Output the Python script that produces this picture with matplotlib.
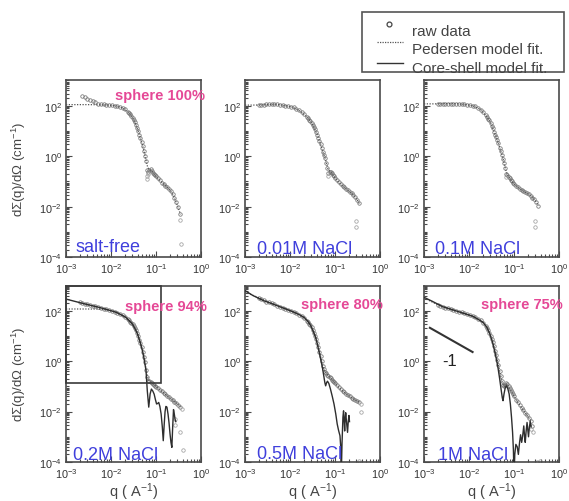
import numpy as np
import matplotlib
matplotlib.use("Agg")
import matplotlib.pyplot as plt
from matplotlib.ticker import LogLocator, NullFormatter
from matplotlib.patches import Rectangle
from matplotlib.lines import Line2D

plt.rcParams['font.family'] = ['Liberation Sans', 'DejaVu Sans']
plt.rcParams['mathtext.fontset'] = 'custom'
plt.rcParams['mathtext.rm'] = 'Liberation Sans'
plt.rcParams['mathtext.it'] = 'Liberation Sans:italic'
plt.rcParams['mathtext.bf'] = 'Liberation Sans:bold'

nan = float('nan')

# ---------------- scattering data ----------------
RAW_Q = [0.0020, 0.0023, 0.0026, 0.0030, 0.0034, 0.0039, 0.0045, 0.0052, 0.0060, 0.0069,
         0.0079, 0.0091, 0.0105, 0.0120, 0.0138, 0.0158, 0.0182, 0.0209, 0.0240,
         0.0254, 0.0269, 0.0285, 0.0302, 0.0320, 0.0339, 0.0359, 0.0380, 0.0403, 0.0427,
         0.0452, 0.0479, 0.0507, 0.0537, 0.0569, 0.0603, 0.0638, 0.0676, 0.0716, 0.0759,
         0.0804, 0.0851, 0.0902, 0.0955,
         0.101, 0.111, 0.122, 0.134, 0.147, 0.161, 0.177, 0.194, 0.213, 0.234, 0.257,
         0.282, 0.310, 0.340]

RAW_SALTFREE = [nan, 251, 219, 190, 170, 151, 135, 120, 115, 112, 110, 107, 102, 100, 95, 89, 81, 74, 58,
                51, 46, 40, 34, 27.5, 22, 17, 13.2, 10, 7.2, 5.2, 3.7, 2.5, 1.66, 1.05, 0.63, 0.28,
                0.24, 0.28, 0.30, 0.26, 0.22, 0.195, 0.174,
                0.158, 0.132, 0.110, 0.091, 0.079, 0.069, 0.060, 0.051, 0.043, 0.032, 0.022, 0.015,
                0.0095, 0.005]
RAW_001M = [105, 107, 110, 112, 115, 115, 115, 112, 110, 105, 100, 95, 91, 85, 76, 66, 55, 45, 35,
            32, 28, 24, 21, 17.4, 14, 11.5, 9.1, 7.1, 5.4, 4.0, 2.95, 2.1, 1.5, 1.12, 0.83, 0.56,
            0.34, 0.22, 0.24, 0.235, 0.21, 0.18, 0.158,
            0.138, 0.112, 0.093, 0.079, 0.068, 0.058, 0.050, 0.044, 0.038, 0.034, 0.029, 0.024,
            0.019, 0.014]
RAW_01M = [115, 117, 117, 120, 120, 120, 120, 120, 117, 115, 112, 107, 103, 100, 93, 83, 69, 55, 42,
           36, 31, 26, 21, 16.2, 12.6, 9.5, 7.2, 5.8, 4.4, 3.2, 2.2, 1.55, 1.1, 0.76, 0.52, 0.35,
           0.19, 0.18, 0.15, 0.132, 0.115, 0.10, 0.089,
           0.079, 0.068, 0.059, 0.051, 0.046, 0.041, 0.037, 0.034, 0.031, 0.0275, 0.023, 0.0195,
           0.015, 0.011]
RAW_02M = [214, 204, 190, 178, 170, 158, 148, 138, 129, 120, 112, 105, 98, 91, 83, 74, 65, 55, 45,
           41, 37, 33, 29.5, 24.5, 20.4, 16.6, 13.2, 10, 7.2, 5.2, 3.6, 2.4, 1.5, 0.89, 0.45, 0.24,
           0.166, 0.158, 0.151, 0.138, 0.129, 0.117, 0.107,
           0.098, 0.083, 0.072, 0.063, 0.055, 0.049, 0.043, 0.037, 0.032, 0.028, 0.0245, 0.0214,
           0.0186, 0.0158]
RAW_05M = [330, 290, 257, 229, 214, 195, 178, 158, 145, 132, 120, 110, 98, 89, 79, 69, 60, 52, 40,
           35, 31, 26, 22, 17.4, 13.5, 10.2, 7.4, 5.2, 3.5, 2.4, 1.55, 1.0, 0.66, 0.47, 0.38, 0.33,
           0.295, 0.263, 0.234, 0.209, 0.186, 0.166, 0.148,
           0.132, 0.11, 0.091, 0.078, 0.066, 0.058, 0.050, 0.045, 0.040, 0.035, 0.032, 0.029,
           0.026, 0.024]
RAW_1M = [174, 158, 145, 132, 123, 115, 105, 98, 91, 85, 78, 72, 66, 60, 55, 48, 41, 33, 24,
          20, 16.6, 13.2, 10.2, 7.6, 5.5, 3.9, 2.6, 1.74, 1.12, 0.69, 0.42, 0.25, 0.158, 0.112, 0.10,
          0.112, 0.132, 0.12, 0.10, 0.083, 0.069, 0.058, 0.048,
          0.040, 0.030, 0.0234, 0.018, 0.014, 0.0112, 8.9e-3, 7.1e-3, 5.6e-3, 4.2e-3, 2.8e-3,
          nan, nan, nan]

# scattered points away from the main curve
OUT_SALTFREE_Q = [0.0625, 0.064, 0.066, 0.345, 0.36]
OUT_SALTFREE_I = [0.17, 0.13, 0.2, 0.003, 3.5e-4]
OUT_001M_Q = [0.071, 0.30, 0.30]
OUT_001M_I = [0.17, 2.8e-3, 1.6e-3]
OUT_01M_Q = [0.068, 0.29, 0.29]
OUT_01M_I = [0.15, 2.8e-3, 1.6e-3]
OUT_02M_Q = [0.37, 0.26, 0.27, 0.34, 0.40]
OUT_02M_I = [0.013, 5e-3, 3e-3, 1.6e-3, 3e-4]
OUT_05M_Q = [0.37, 0.38, 0.35]
OUT_05M_I = [0.02, 0.01, 1.1e-4]
OUT_1M_Q = [0.27, 0.24, 0.33, 0.38]
OUT_1M_I = [1.5e-3, 2e-3, 1e-4, 1.1e-4]

# Pedersen model fits
FIT_Q = [0.001, 0.002, 0.003, 0.005, 0.008, 0.012, 0.018, 0.025, 0.03, 0.035, 0.04, 0.045,
         0.05, 0.055, 0.06, 0.065, 0.07, 0.08, 0.09, 0.1, 0.12, 0.15, 0.19, 0.24, 0.3, 0.35]
PED_SALTFREE = [110, 110, 110, 109, 107, 100, 82, 53, 35, 19, 10.3, 5.3, 2.8, 1.4, 0.68, 0.38,
                0.3, 0.27, 0.2, 0.16, 0.115, 0.077, 0.053, 0.03, 0.011, 0.005]
PED_001M = [105, 106, 110, 113, 100, 85, 56, 33, 21.5, 12.5, 7.3, 4.1, 2.3, 1.3, 0.86, 0.5,
            0.3, 0.24, 0.18, 0.14, 0.095, 0.066, 0.045, 0.033, 0.021, 0.013]
PED_01M = [118, 118, 120, 120, 112, 100, 72, 36, 22, 11, 6, 3.3, 1.7, 1.05, 0.56, 0.3,
           0.2, 0.135, 0.1, 0.08, 0.06, 0.045, 0.035, 0.027, 0.017, 0.011]
PED_02M = [117, 117, 117, 116, 112, 92, 66, 42, 30, 18.5, 10.3, 5.4, 2.7, 1.3, 0.48, 0.24,
           0.17, 0.14, 0.118, 0.1, 0.074, 0.054, 0.038, 0.027, 0.02, 0.015]
PED_05M = [550, 330, 229, 162, 119, 89, 61, 37, 22.5, 11.5, 5.5, 2.5, 1.1, 0.55, 0.39, 0.32,
           0.275, 0.21, 0.167, 0.135, 0.094, 0.064, 0.046, 0.034, 0.027, 0.023]
PED_1M = [320, 174, 132, 100, 77, 60, 42, 22, 10.5, 4.6, 1.8, 0.72, 0.29, 0.14, 0.1, 0.115,
          0.125, 0.083, 0.058, 0.041, 0.024, 0.0135, 0.0075, 0.0042]

# Core-shell model fits (salt-added samples)
CS_02M_Q = [0.001, 0.0015, 0.0025, 0.004, 0.0055, 0.008, 0.013, 0.0214, 0.030, 0.035, 0.039,
            0.045, 0.050, 0.055, 0.060, 0.064, 0.069, 0.074, 0.079, 0.085, 0.091, 0.097, 0.103,
            0.109, 0.115, 0.122, 0.130, 0.138, 0.145, 0.152, 0.159, 0.166, 0.175, 0.185, 0.195,
            0.205, 0.215, 0.225, 0.235, 0.245, 0.255, 0.265, 0.275]
CS_02M_I = [290, 240, 190, 155, 135, 112, 87, 55, 29.5, 18, 11.7, 5.2, 2.6, 1.1, 0.42, 0.068,
            0.015, 0.05, 0.078, 0.065, 0.049, 0.03, 0.02, 0.021, 0.023, 0.016, 8e-3, 2.5e-3,
            7e-4, 3e-3, 0.01, 0.016, 0.015, 8e-3, 3.5e-3, 1.3e-3, 6e-4, 3.8e-4, 2.5e-3, 0.012,
            8e-3, 5e-3, 4e-3]
CS_05M_Q = [0.001, 0.0015, 0.0026, 0.004, 0.0052, 0.008, 0.0123, 0.016, 0.0204, 0.025, 0.0288,
            0.033, 0.0372, 0.040, 0.0437, 0.048, 0.0525, 0.0565, 0.0595, 0.062, 0.065, 0.068,
            0.073, 0.079, 0.087, 0.095, 0.104, 0.112, 0.120, 0.129, 0.134, 0.138, 0.143, 0.150,
            0.155, 0.160, 0.164, 0.168, 0.173, 0.180, 0.190, 0.197, 0.204, 0.210]
CS_05M_I = [630, 400, 250, 190, 158, 118, 87, 70, 55, 38, 26, 15, 8.7, 5.2, 2.6, 1.2, 0.56,
            0.25, 0.14, 0.105, 0.14, 0.16, 0.13, 0.08, 0.04, 0.02, 8e-3, 3.2e-3, 1.8e-3, 1.1e-3,
            4e-4, 3e-5, 5e-4, 6e-3, 0.0107, 4e-3, 1.7e-3, 5e-3, 9e-3, 4e-3, 1.5e-3, 4e-3, 7e-3,
            4e-3]
CS_1M_Q = [0.001, 0.0015, 0.0026, 0.0052, 0.0123, 0.0204, 0.025, 0.029, 0.033, 0.037, 0.041,
           0.044, 0.048, 0.052, 0.055, 0.057, 0.060, 0.064, 0.068, 0.073, 0.078, 0.083, 0.088,
           0.093, 0.097, 0.100, 0.104, 0.110, 0.118, 0.125, 0.133, 0.140, 0.148, 0.155, 0.165,
           0.172, 0.178, 0.185, 0.195, 0.202, 0.210, 0.220, 0.230, 0.240]
CS_1M_I = [340, 240, 145, 98, 60, 35, 22, 12, 6, 2.6, 1.1, 0.56, 0.2, 0.07, 0.035, 0.027, 0.05,
           0.09, 0.105, 0.08, 0.05, 0.02, 6e-3, 1.5e-3, 3e-4, 3e-5, 2e-4, 5e-4, 4e-4, 2e-4,
           6e-4, 1.2e-3, 6e-4, 1e-3, 2.7e-3, 1e-3, 6e-4, 1.5e-3, 3.7e-3, 2e-3, 1e-3, 2.5e-3,
           4e-3, 2.5e-3]

# q^-1 guide line
SLOPE_Q = [1.35e-3, 1.2e-2]
SLOPE_I = [21, 2.3]

SALT_LABELS = ['salt-free', '0.01M NaCl', '0.1M NaCl', '0.2M NaCl', '0.5M NaCl', '1M NaCl']
SPHERE_LABELS = ['sphere 100%', None, None, 'sphere 94%', 'sphere 80%', 'sphere 75%']

RAW_SETS = [RAW_SALTFREE, RAW_001M, RAW_01M, RAW_02M, RAW_05M, RAW_1M]
OUT_SETS = [(OUT_SALTFREE_Q, OUT_SALTFREE_I), (OUT_001M_Q, OUT_001M_I), (OUT_01M_Q, OUT_01M_I),
            (OUT_02M_Q, OUT_02M_I), (OUT_05M_Q, OUT_05M_I), (OUT_1M_Q, OUT_1M_I)]
PED_SETS = [PED_SALTFREE, PED_001M, PED_01M, PED_02M, PED_05M, PED_1M]
CS_SETS = [None, None, None, (CS_02M_Q, CS_02M_I), (CS_05M_Q, CS_05M_I), (CS_1M_Q, CS_1M_I)]

# ---------------- layout (pixels) ----------------
W, H = 569, 502
COL_X = [66, 245, 424]
AX_W = 135
ROWS = [(81.4, 258.3), (286.5, 463.0)]

SPHERE_X = [0.363, None, None, 0.437, 0.415, 0.42]
SPHERE_Y = [0.917, None, None, 0.884, 0.895, 0.895]
SALT_X = [0.074, 0.089, 0.08, 0.052, 0.089, 0.10]
SALT_Y = [0.062, 0.05, 0.047, 0.045, 0.05, 0.045]

PINK = '#e54896'
BLUE = '#3f3fdc'
FRAME = '#4a4a4a'
TXT = '#333333'

fig = plt.figure(figsize=(W / 100, H / 100), dpi=100)
fig.patch.set_facecolor('white')

axes = []
for i in range(6):
    r, c = divmod(i, 3)
    top, bot = ROWS[r]
    ax = fig.add_axes([COL_X[c] / W, 1 - bot / H, AX_W / W, (bot - top) / H])
    axes.append(ax)
    ax.set_xscale('log')
    ax.set_yscale('log')

    # raw data
    ax.plot(RAW_Q, RAW_SETS[i], 'o', ms=2.5, mfc='none', mec='#737373', mew=0.55, zorder=2)
    oq, oi = OUT_SETS[i]
    ax.plot(oq, oi, 'o', ms=2.5, mfc='none', mec='#a0a0a0', mew=0.55, zorder=2)
    # Pedersen fit
    ped = PED_SETS[i]
    ax.plot(FIT_Q[:len(ped)], ped, ls=(0, (1, 1.2)), color='#555555', lw=0.9, zorder=3)
    # Core-shell fit
    if CS_SETS[i] is not None:
        cq, ci = CS_SETS[i]
        ax.plot(cq, ci, '-', color='#2e2e2e', lw=1.0, zorder=4)

    ax.set_xlim(1e-3, 1)
    ax.set_ylim(1e-4, 1e3)
    ax.set_xticks([1e-3, 1e-2, 1e-1, 1])
    ax.set_yticks([1e-4, 1e-2, 1, 1e2])
    ax.xaxis.set_minor_locator(LogLocator(base=10, subs=np.arange(2, 10), numticks=100))
    ax.yaxis.set_minor_locator(LogLocator(base=10, subs=np.arange(1, 10), numticks=100))
    ax.xaxis.set_minor_formatter(NullFormatter())
    ax.yaxis.set_minor_formatter(NullFormatter())
    ax.tick_params(which='both', direction='in', top=False, right=False, color=FRAME,
                   labelsize=7.8, labelcolor=TXT, width=0.8)
    ax.tick_params(which='major', length=4, pad=3)
    ax.tick_params(which='minor', length=2)
    for s in ax.spines.values():
        s.set_color(FRAME)
        s.set_linewidth(1.2)

    ax.text(SALT_X[i], SALT_Y[i], SALT_LABELS[i], transform=ax.transAxes, color=BLUE,
            fontsize=13, ha='left', va='center', zorder=6)
    if SPHERE_LABELS[i]:
        ax.text(SPHERE_X[i], SPHERE_Y[i], SPHERE_LABELS[i], transform=ax.transAxes,
                color=PINK, fontsize=10.5, fontweight='bold', ha='left', va='center',
                clip_on=False, zorder=6)

# inset frame in the 0.2M panel
axes[3].add_patch(Rectangle((1e-3, 0.135), 0.13 - 1e-3, 1e3 - 0.135, fill=False,
                            ec='#3a3a3a', lw=1.2, zorder=5, clip_on=False))

# slope -1 guide in the 1M panel
axes[5].plot(SLOPE_Q, SLOPE_I, '-', color='#333333', lw=1.5, zorder=5)
axes[5].text(3.7e-3, 1.1, '-1', color='#222222', fontsize=12, ha='center', va='center')

# axis labels
for r, (top, bot) in enumerate(ROWS):
    fig.text(19 / W, 1 - (top + bot) / 2 / H, 'd\u03a3(q)/d\u03a9 (cm$^{-1}$)', rotation=90,
             ha='center', va='center', fontsize=9.5, color='#444444')
for c in range(3):
    fig.text((COL_X[c] + AX_W / 2) / W, 1 - 492 / H, 'q ( A$^{-1}$)', ha='center', va='center',
             fontsize=10.5, color='#444444')

# legend
fig.add_artist(Rectangle((362 / W, 1 - 73 / H), (564 - 362) / W, (73 - 13) / H, fill=False,
                         ec='#555555', lw=1.2, transform=fig.transFigure))
fig.add_artist(Line2D([389 / W], [1 - 25 / H], marker='o', ms=3.5, mfc='none', mec='#444444',
                      mew=0.9, ls='none', transform=fig.transFigure))
fig.add_artist(Line2D([377 / W, 403 / W], [1 - 43 / H, 1 - 43 / H], ls=(0, (1, 1)),
                      color='#555555', lw=0.9, transform=fig.transFigure))
fig.add_artist(Line2D([377 / W, 403 / W], [1 - 64 / H, 1 - 64 / H], ls='-',
                      color='#333333', lw=1.0, transform=fig.transFigure))
for y, t in [(32, 'raw data'), (50, 'Pedersen model fit.'), (69, 'Core-shell model fit.')]:
    fig.text(412 / W, 1 - y / H, t, ha='left', va='center', fontsize=11, color='#444444')

fig.savefig('out.png', dpi=100, facecolor='white')
